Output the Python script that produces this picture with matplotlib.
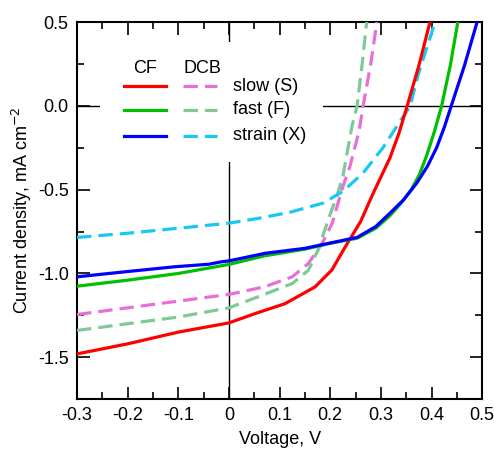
import matplotlib
matplotlib.use("Agg")
import matplotlib.pyplot as plt
from matplotlib.lines import Line2D
from matplotlib.patches import Rectangle

plt.rcParams['font.family'] = ['Liberation Sans', 'DejaVu Sans']
plt.rcParams['axes.unicode_minus'] = False

# CF films (solid)
v_cf_slow = [-0.3, -0.2, -0.1, 0.0, 0.051, 0.111, 0.17, 0.203, 0.229, 0.26, 0.285, 0.318, 0.336, 0.352, 0.375, 0.397]
j_cf_slow = [-1.48, -1.42, -1.35, -1.295, -1.24, -1.18, -1.08, -0.98, -0.845, -0.69, -0.52, -0.31, -0.16, 0.0, 0.24, 0.5]

v_cf_fast = [-0.3, -0.2, -0.1, 0.0, 0.07, 0.15, 0.2, 0.253, 0.29, 0.318, 0.34, 0.36, 0.376, 0.39, 0.405, 0.42, 0.437, 0.452]
j_cf_fast = [-1.076, -1.04, -1.0, -0.946, -0.895, -0.855, -0.82, -0.79, -0.73, -0.655, -0.58, -0.5, -0.41, -0.30, -0.16, 0.0, 0.24, 0.5]

v_cf_strain = [-0.3, -0.205, -0.107, -0.04, -0.014, 0.0, 0.071, 0.15, 0.229, 0.253, 0.29, 0.318, 0.345, 0.371, 0.392, 0.41, 0.425, 0.439, 0.465, 0.49]
j_cf_strain = [-1.02, -0.99, -0.96, -0.945, -0.93, -0.925, -0.88, -0.85, -0.80, -0.785, -0.72, -0.64, -0.56, -0.46, -0.36, -0.25, -0.13, 0.0, 0.24, 0.5]

# DCB films (dashed)
v_dcb_slow = [-0.3, -0.2, -0.1, 0.0, 0.07, 0.125, 0.157, 0.184, 0.204, 0.223, 0.239, 0.257, 0.265, 0.28, 0.292]
j_dcb_slow = [-1.245, -1.205, -1.165, -1.125, -1.08, -1.02, -0.94, -0.82, -0.70, -0.50, -0.36, -0.15, 0.0, 0.25, 0.5]

v_dcb_fast = [-0.3, -0.2, -0.1, 0.0, 0.057, 0.125, 0.157, 0.176, 0.196, 0.215, 0.225, 0.243, 0.253, 0.263, 0.272]
j_dcb_fast = [-1.34, -1.30, -1.26, -1.205, -1.14, -1.06, -0.98, -0.86, -0.68, -0.52, -0.42, -0.12, 0.0, 0.25, 0.5]

v_dcb_strain = [-0.3, -0.2, -0.1, 0.0, 0.06, 0.12, 0.186, 0.225, 0.265, 0.304, 0.332, 0.358, 0.373, 0.39, 0.407]
j_dcb_strain = [-0.785, -0.76, -0.73, -0.70, -0.67, -0.635, -0.58, -0.51, -0.40, -0.25, -0.12, 0.0, 0.18, 0.34, 0.5]

labels = ['slow (S)', 'fast (F)', 'strain (X)']
cf_colors = ['#ff0000', '#00c000', '#0000ff']
dcb_colors = ['#e86ed8', '#80c896', '#18c8f4']

fig = plt.figure(figsize=(4.94, 4.51), dpi=100)
ax = fig.add_axes([0.156, 0.115, 0.82, 0.836])

ax.axhline(0, color='black', lw=1.0, zorder=1)
ax.axvline(0, color='black', lw=1.0, zorder=1)

dash = (4.5, 2.2)
cf_data = [(v_cf_slow, j_cf_slow), (v_cf_fast, j_cf_fast), (v_cf_strain, j_cf_strain)]
dcb_data = [(v_dcb_slow, j_dcb_slow), (v_dcb_fast, j_dcb_fast), (v_dcb_strain, j_dcb_strain)]
for (v, j), c in zip(dcb_data, dcb_colors):
    ax.plot(v, j, color=c, lw=2.3, dashes=dash, zorder=3)
for (v, j), c in zip(cf_data, cf_colors):
    ax.plot(v, j, color=c, lw=2.3, zorder=4)

# hand made legend on white patch
ax.add_patch(Rectangle((0.057, 0.629), 0.55, 0.318, transform=ax.transAxes,
                       facecolor='white', edgecolor='none', zorder=2))
fs = 13
ax.text(0.168, 0.878, 'CF', transform=ax.transAxes, ha='center', va='center', fontsize=fs, zorder=5)
ax.text(0.309, 0.878, 'DCB', transform=ax.transAxes, ha='center', va='center', fontsize=fs, zorder=5)
rows = [0.830, 0.767, 0.698]
for y, lab, c1, c2 in zip(rows, labels, cf_colors, dcb_colors):
    ax.add_line(Line2D([0.116, 0.220], [y, y], transform=ax.transAxes, color=c1, lw=2.3, zorder=5))
    ax.add_line(Line2D([0.262, 0.346], [y, y], transform=ax.transAxes, color=c2, lw=2.3,
                       dashes=dash, zorder=5))
    ax.text(0.385, y, lab, transform=ax.transAxes, ha='left', va='center', fontsize=fs, zorder=5)

ax.set_xlim(-0.3, 0.5)
ax.set_ylim(-1.75, 0.5)
ax.set_xticks([-0.3, -0.2, -0.1, 0, 0.1, 0.2, 0.3, 0.4, 0.5])
ax.set_xticklabels(['-0.3', '-0.2', '-0.1', '0', '0.1', '0.2', '0.3', '0.4', '0.5'])
ax.set_xticks([-0.25, -0.15, -0.05, 0.05, 0.15, 0.25, 0.35, 0.45], minor=True)
ax.set_yticks([-1.5, -1.0, -0.5, 0.0, 0.5])
ax.set_yticklabels(['-1.5', '-1.0', '-0.5', '0.0', '0.5'])
ax.set_yticks([-1.25, -0.75, -0.25, 0.25], minor=True)
ax.tick_params(which='both', direction='in', top=True, right=True, width=1.2, labelsize=fs, pad=6)
ax.tick_params(which='major', length=9)
ax.tick_params(which='minor', length=5)
for s in ax.spines.values():
    s.set_linewidth(1.5)

ax.set_xlabel('Voltage, V', fontsize=fs, labelpad=5)
ax.set_ylabel('Current density, mA cm$^{-2}$', fontsize=fs, labelpad=3)

fig.savefig('out.png', dpi=100)
